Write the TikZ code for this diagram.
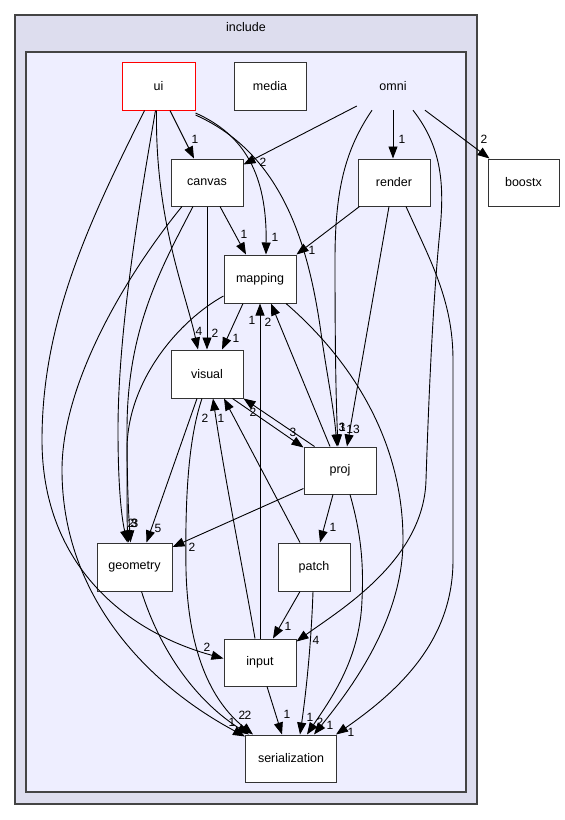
\documentclass[tikz,border=0pt]{standalone}
\usepackage{fontspec}
\setmainfont{Liberation Sans}
\usetikzlibrary{arrows.meta,calc}
\definecolor{outerfill}{HTML}{DDDDEE}
\definecolor{innerfill}{HTML}{EEEEFF}
\definecolor{boxline}{HTML}{333333}
\definecolor{clusterline}{HTML}{444444}
\begin{document}
\begin{tikzpicture}[x=1pt,y=-1pt,
  box/.style={draw=boxline, fill=white, line width=1pt, minimum width=72pt, minimum height=48pt, inner sep=0pt, font=\fontsize{12.5}{15}\selectfont},
  plain/.style={minimum width=72pt, minimum height=48pt, inner sep=0pt, font=\fontsize{12.5}{15}\selectfont},
  edge/.style={draw=black, line width=0.9pt, -{Triangle[length=12pt,width=9pt]}},
  lab/.style={font=\fontsize{12}{14}\selectfont, inner sep=0pt},
  cluster/.style={draw=clusterline, line width=1.4pt, inner sep=0pt}
]
\path[use as bounding box] (0,0) rectangle (565,820);
% clusters
\node[cluster, fill=outerfill, minimum width=462pt, minimum height=789pt] (incl) at (246,409.5) {};
\node[font=\fontsize{12.5}{15}\selectfont, inner sep=0pt] (incllab) at (246,27) {include};
\node[cluster, fill=innerfill, minimum width=440pt, minimum height=740pt] (omnicl) at (246,422) {};
% nodes
\node[box, draw=red, minimum width=73pt] (ui) at (158.5,86) {ui};
\node[box] (media) at (270,86) {media};
\node[plain] (omni) at (393,86) {omni};
\node[box, minimum width=71pt, minimum height=47pt] (boostx) at (523.5,182.5) {boostx};
\node[box, minimum height=47pt] (canvas) at (207,182.5) {canvas};
\node[box, minimum height=47pt] (render) at (394,182.5) {render};
\node[box] (mapping) at (260,279) {mapping};
\node[box] (visual) at (207,374) {visual};
\node[box, minimum height=47pt] (proj) at (340,470.5) {proj};
\node[box, minimum width=75pt] (geometry) at (134.5,567) {geometry};
\node[box] (patch) at (314,567) {patch};
\node[box, minimum height=47pt] (input) at (260,662.5) {input};
\node[box, minimum width=91pt, minimum height=47pt] (serialization) at (291,758.5) {serialization};
% edges from ui
\draw[edge] ($(ui.south)+(11.5,0)$) -- ($(canvas.north)+(-13,0)$);
\draw[edge] ($(ui.east)+(0,27)$) .. controls (245,135) and (267,175) .. ($(mapping.north)+(6,0)$);
\draw[edge] ($(ui.east)+(0,29)$) .. controls (285,155) and (310,250) .. (322,340) .. controls (328,380) and (334,410) .. ($(proj.north)+(-3,0)$);
\draw[edge] ($(ui.south)+(-2,0)$) .. controls (155,220) and (185,290) .. ($(visual.north)+(-9,0)$);
\draw[edge] ($(ui.south)+(-3,0)$) .. controls (140,200) and (118,330) .. (118,430) .. controls (118,490) and (122,520) .. ($(geometry.north)+(-7,0)$);
\draw[edge] ($(ui.south)+(-14,0)$) .. controls (90,220) and (42,320) .. (42,440) .. controls (42,560) and (120,630) .. ($(input.west)+(0,-4)$);
% edges from omni
\draw[edge] ($(omni.west)+(0,20)$) -- ($(canvas.east)+(0,-18)$);
\draw[edge] (omni.south) -- ($(render.north)+(-1,0)$);
\draw[edge] ($(omni.south)+(32,0)$) -- ($(boostx.north west)+(2,0)$);
\draw[edge] ($(omni.south)+(-21,0)$) .. controls (345,150) and (335,190) .. (335,260) .. controls (335,350) and (336,400) .. ($(proj.north)+(-2,0)$);
\draw[edge] ($(omni.south)+(20,0)$) .. controls (440,145) and (445,180) .. (440,230) .. controls (432,310) and (428,420) .. (426,480) .. controls (424,560) and (340,610) .. ($(input.east)+(0,-21)$);
% edges from render
\draw[edge] ($(render.south west)+(2,0)$) -- (mapping.north east);
\draw[edge] ($(render.south)+(-5,0)$) -- ($(proj.north)+(7,0)$);
\draw[edge] ($(render.south)+(12,0)$) .. controls (430,260) and (453,300) .. (453,360) -- (453,560) .. controls (453,640) and (400,690) .. ($(serialization.north east)+(-1,0)$);
% edges from canvas
\draw[edge] ($(canvas.south)+(13,0)$) -- ($(mapping.north)+(-14,0)$);
\draw[edge] (canvas.south) -- (visual.north);
\draw[edge] ($(canvas.south)+(-14,0)$) .. controls (160,270) and (127,330) .. (127,430) .. controls (127,490) and (129,520) .. ($(geometry.north)+(-4,0)$);
\draw[edge] ($(canvas.south)+(-25,0)$) .. controls (130,270) and (62,380) .. (62,470) .. controls (62,590) and (140,680) .. ($(serialization.north west)+(0,2)$);
% edges from mapping
\draw[edge] ($(mapping.south)+(-17,0)$) -- ($(visual.north)+(15,0)$);
\draw[edge] ($(mapping.west)+(0,17)$) .. controls (180,320) and (127,380) .. (127,450) .. controls (127,500) and (127,525) .. ($(geometry.north)+(-6,0)$);
\draw[edge] ($(mapping.south)+(26,0)$) .. controls (340,350) and (403,430) .. (403,540) .. controls (403,620) and (350,690) .. ($(serialization.north)+(23,0)$);
% edges from visual
\draw[edge] ($(visual.south east)+(-11,0)$) -- ($(proj.north west)+(0,1)$);
\draw[edge] ($(visual.south)+(-10,0)$) -- ($(geometry.north)+(12,0)$);
\draw[edge] ($(visual.south)+(-5,0)$) .. controls (188,440) and (185,500) .. (186,570) .. controls (188,650) and (210,700) .. ($(serialization.north west)+(8,0)$);
% edges from proj
\draw[edge] ($(proj.north)+(-10,0)$) -- ($(mapping.south)+(11,0)$);
\draw[edge] ($(proj.north west)+(11,0)$) -- (visual.south east);
\draw[edge] ($(proj.west)+(0,18)$) -- ($(geometry.east)+(0,-20)$);
\draw[edge] ($(proj.south)+(-7,0)$) -- ($(patch.north)+(6,0)$);
\draw[edge] ($(proj.south)+(10,0)$) .. controls (360,530) and (364,560) .. (362,600) .. controls (360,660) and (330,700) .. ($(serialization.north)+(16,0)$);
% edges from patch
\draw[edge] ($(patch.north)+(-14,0)$) -- ($(visual.south)+(17,0)$);
\draw[edge] ($(patch.south)+(-14,0)$) -- ($(input.north)+(13,0)$);
\draw[edge] ($(patch.south)+(-1,0)$) .. controls (311,650) and (305,700) .. ($(serialization.north)+(9,0)$);
% edges from geometry
\draw[edge] ($(geometry.south)+(7,0)$) .. controls (160,650) and (195,700) .. ($(serialization.north west)+(4,0)$);
% edges from input
\draw[edge] (input.north) -- (mapping.south);
\draw[edge] ($(input.north)+(-5,0)$) .. controls (245,580) and (225,480) .. ($(visual.south)+(6,0)$);
\draw[edge] ($(input.south)+(7,0)$) -- ($(serialization.north)+(-9,0)$);
% labels
\node[lab] (l1) at (195,139) {1};
\node[lab] (l2) at (275,237) {1};
\node[lab] (l3) at (342,427) {3};
\node[lab] (l4) at (263,162) {2};
\node[lab] (l5) at (402,139) {1};
\node[lab] (l6) at (484,139) {2};
\node[lab] (l7) at (342.5,427) {1};
\node[lab] (l8) at (316,640) {4};
\node[lab] (l9) at (312,250) {1};
\node[lab] (l10) at (353,429) {13};
\node[lab] (l11) at (351,732) {1};
\node[lab] (l12) at (244,234) {1};
\node[lab] (l13) at (215,333) {2};
\node[lab] (l14) at (134,523) {3};
\node[lab] (l15) at (232,722) {1};
\node[lab] (l16) at (199,331) {4};
\node[lab] (l17) at (131,523) {2};
\node[lab] (l18) at (207,647) {2};
\node[lab] (l19) at (236,338) {1};
\node[lab] (l20) at (135,523) {3};
\node[lab] (l21) at (330,725) {1};
\node[lab] (l22) at (252,320) {1};
\node[lab] (l23) at (268,322) {2};
\node[lab] (l24) at (293,432) {3};
\node[lab] (l25) at (253,412) {2};
\node[lab] (l26) at (158,528) {5};
\node[lab] (l27) at (248,715) {2};
\node[lab] (l28) at (205,418) {2};
\node[lab] (l29) at (221,418) {1};
\node[lab] (l30) at (192,547) {2};
\node[lab] (l31) at (333,527) {1};
\node[lab] (l32) at (320,722) {2};
\node[lab] (l33) at (288,626) {1};
\node[lab] (l34) at (310,717) {1};
\node[lab] (l35) at (242,715) {2};
\node[lab] (l36) at (287,714) {1};
\end{tikzpicture}
\end{document}
